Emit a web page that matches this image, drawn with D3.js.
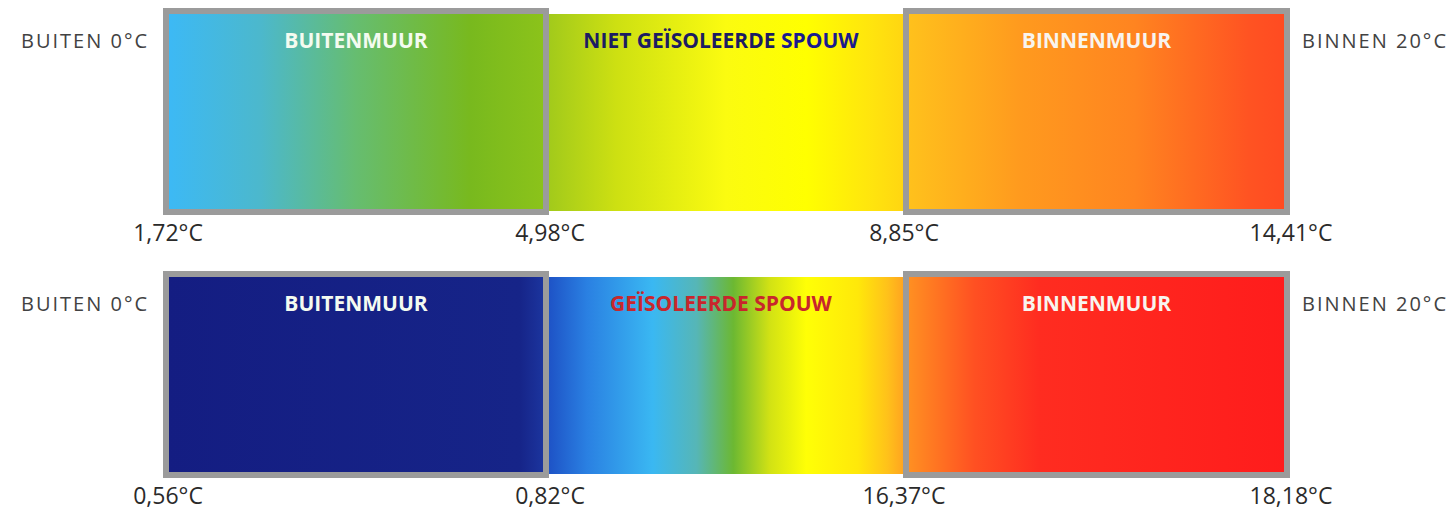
<!DOCTYPE html>
<html>
<head>
<meta charset="utf-8">
<script src="https://cdn.jsdelivr.net/npm/d3@7"></script>
<style>
  html, body { margin: 0; padding: 0; background: #fff; }
  svg { display: block; }
</style>
</head>
<body>
<svg id="chart" width="1453" height="512"></svg>
<script>
// ---- data ----
const scenarios = ["NIET GEÏSOLEERDE", "GEÏSOLEERDE"];
const layers = ["BUITENMUUR", "SPOUW", "BINNENMUUR"];
const tempsNietGeisoleerd = [1.72, 4.98, 8.85, 14.41];
const tempsGeisoleerd = [0.56, 0.82, 16.37, 18.18];
const outsideLabel = "BUITEN";
const insideLabel = "BINNEN";
const outsideTemp = 0;
const insideTemp = 20;

// ---- styles ----
const gradients = [
  [ // niet geïsoleerd
    [[0, "#3cb9f6"], [0.25, "#4cb8cc"], [0.5, "#66bd70"], [0.8, "#78b91e"], [1, "#8cc31a"]],
    [[0, "#9ec81c"], [0.2, "#cde012"], [0.5, "#fbfb10"], [0.72, "#ffff00"], [0.9, "#ffe40e"], [1, "#ffd312"]],
    [[0, "#ffc21c"], [0.3, "#ff9a1e"], [0.6, "#ff8420"], [0.9, "#ff5322"], [1, "#ff4a22"]]
  ],
  [ // geïsoleerd
    [[0, "#141d82"], [0.93, "#162488"], [1, "#1c36a0"]],
    [[0, "#1c4cc2"], [0.12, "#2a80e2"], [0.3, "#3ab8f2"], [0.42, "#56b6b6"], [0.52, "#6cb832"], [0.62, "#d2e214"], [0.72, "#ffff06"], [0.86, "#ffe80a"], [0.94, "#ffc21a"], [1, "#ff9a22"]],
    [[0, "#ff9222"], [0.18, "#ff5022"], [0.35, "#ff2c20"], [1, "#ff1c1c"]]
  ]
];
const titleColors = [["#1c1c62", "#1a1a8e"], ["#c8262c", "#c8262c"]];

const svg = d3.select("#chart");
const defs = svg.append("defs");

const x = d3.scaleLinear().domain([0, 1, 2, 3]).range([163, 549, 903, 1290]);
const y = d3.scaleBand().domain(scenarios).range([8, 534]).padding(0);
const boxH = 207;
const spouwInset = 6;
const border = 6;

const loc = d3.formatLocale({decimal: ",", thousands: ".", grouping: [3], currency: ["", "€"]});
const fmt = loc.format(".2f");

const allTemps = [tempsNietGeisoleerd, tempsGeisoleerd];

scenarios.forEach((sc, si) => {
  const g = svg.append("g").attr("transform", `translate(0,${y(sc)})`);

  // gradients
  layers.forEach((ly, li) => {
    const id = `grad-${si}-${li}`;
    const lg = defs.append("linearGradient").attr("id", id)
      .attr("x1", "0%").attr("x2", "100%").attr("y1", "0%").attr("y2", "0%");
    gradients[si][li].forEach(([o, c]) => lg.append("stop").attr("offset", o).attr("stop-color", c));
  });

  // spouw (middle) first
  g.append("rect")
    .attr("x", x(1) - border).attr("width", x(2) - x(1) + 2 * border)
    .attr("y", spouwInset).attr("height", boxH - 2 * spouwInset + 2)
    .attr("fill", `url(#grad-${si}-1)`);

  // walls
  [0, 2].forEach(li => {
    g.append("rect")
      .attr("x", x(li) + border / 2).attr("width", x(li + 1) - x(li) - border)
      .attr("y", border / 2).attr("height", boxH - border)
      .attr("fill", `url(#grad-${si}-${li})`)
      .attr("stroke", "#9b9b9b").attr("stroke-width", border);
  });

  // titles
  g.append("text").attr("x", (x(0) + x(1)) / 2).attr("y", 40)
    .attr("text-anchor", "middle").attr("font-family", "'Open Sans', sans-serif")
    .attr("font-weight", 700).attr("font-size", 21).attr("fill", "#f4fbf0")
    .text(layers[0]);
  g.append("text").attr("x", (x(2) + x(3)) / 2).attr("y", 40)
    .attr("text-anchor", "middle").attr("font-family", "'Open Sans', sans-serif")
    .attr("font-weight", 700).attr("font-size", 21).attr("fill", "#f8f4ee")
    .text(layers[2]);
  const t = g.append("text").attr("x", (x(1) + x(2)) / 2 - 5).attr("y", 40)
    .attr("text-anchor", "middle").attr("font-family", "'Open Sans', sans-serif")
    .attr("font-weight", 700).attr("font-size", 21);
  t.append("tspan").attr("fill", titleColors[si][0]).text(sc + " ");
  t.append("tspan").attr("fill", titleColors[si][1]).text(layers[1]);

  // side labels
  g.append("text").attr("x", 21).attr("y", 40)
    .attr("font-family", "'Open Sans', sans-serif").attr("font-size", 20)
    .attr("letter-spacing", 2).attr("fill", "#424242")
    .text(`${outsideLabel} ${outsideTemp}°C`);
  g.append("text").attr("x", 1302).attr("y", 40)
    .attr("font-family", "'Open Sans', sans-serif").attr("font-size", 20)
    .attr("letter-spacing", 2).attr("fill", "#424242")
    .text(`${insideLabel} ${insideTemp}°C`);

  // boundary temperatures
  g.selectAll("text.temp").data(allTemps[si]).enter().append("text")
    .attr("class", "temp")
    .attr("x", (d, i) => x(i) + (i === 0 ? 5 : 1))
    .attr("y", 233)
    .attr("text-anchor", "middle")
    .attr("font-family", "'Open Sans', sans-serif").attr("font-size", 23)
    .attr("fill", "#2a2a2a")
    .text(d => fmt(d) + "°C");
});
</script>
</body>
</html>
